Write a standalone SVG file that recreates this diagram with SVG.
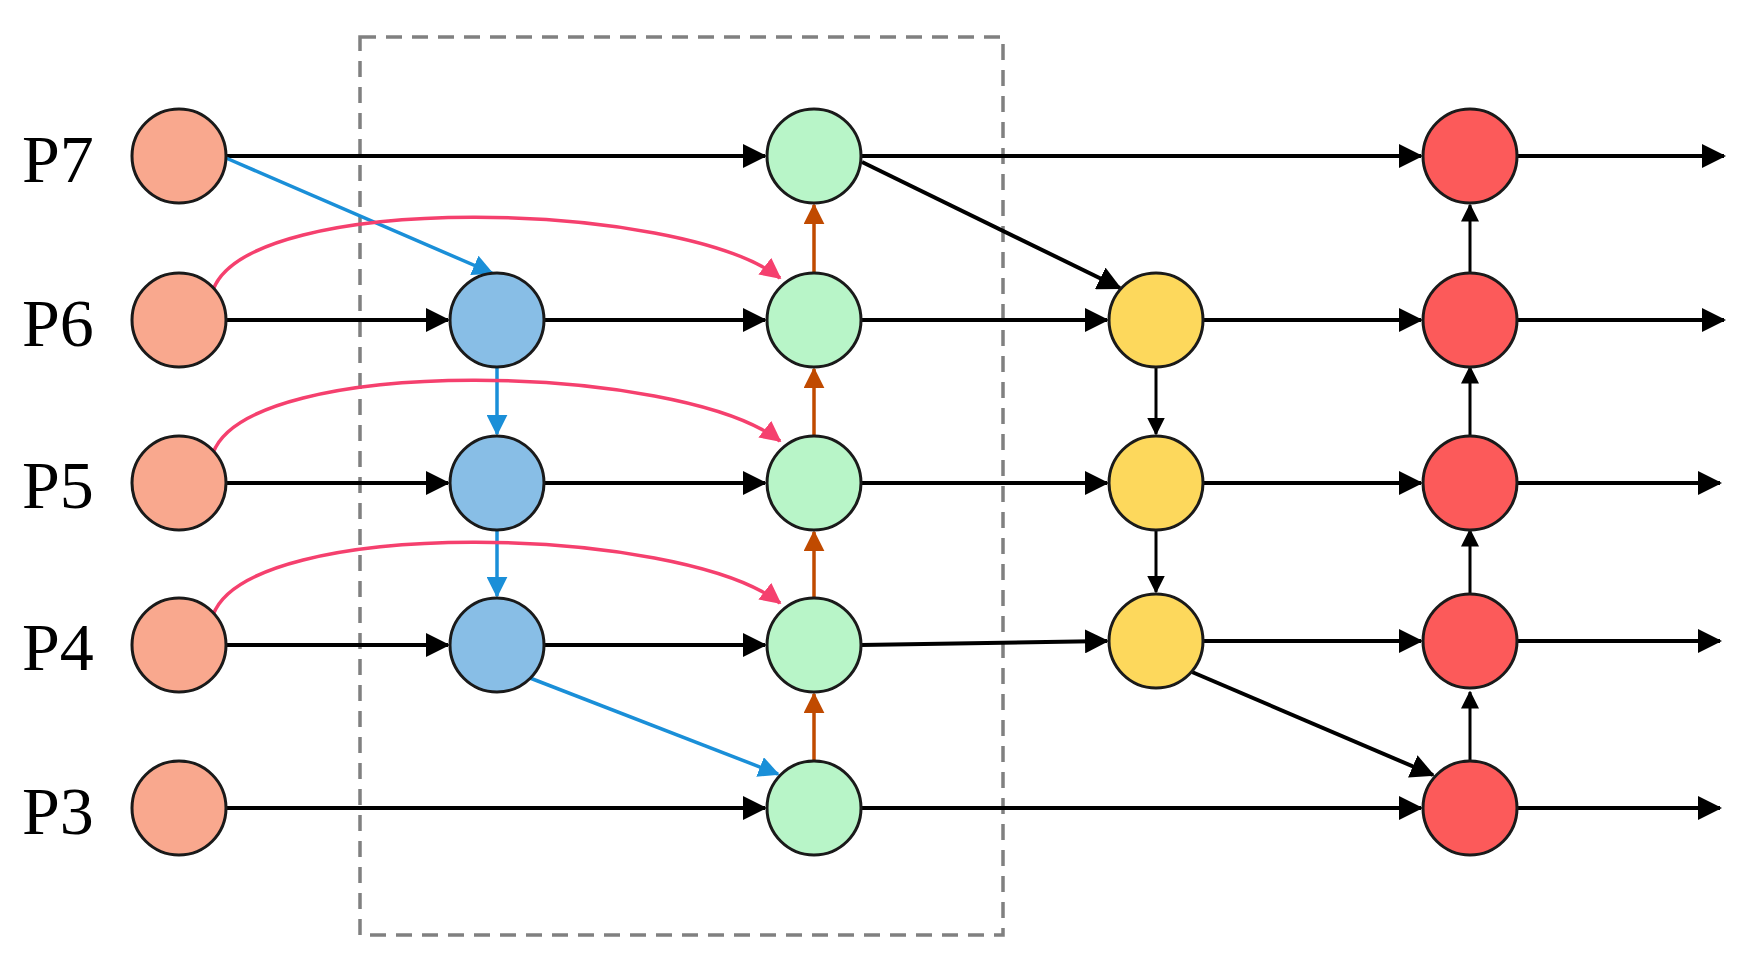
<svg xmlns="http://www.w3.org/2000/svg" width="1741" height="964" viewBox="0 0 1741 964">
<style>
circle{stroke:#1a1a1a;stroke-width:3}
.o{fill:#F9A88E}.b{fill:#88BEE6}.g{fill:#B8F5C8}.y{fill:#FDD85C}.r{fill:#FC5A5A}
.k{stroke:#000;stroke-width:4;fill:none;marker-end:url(#ak)}
.kt{stroke:#000;stroke-width:3;fill:none;marker-end:url(#ak)}
.bl{stroke:#1A8FD8;stroke-width:3.5;fill:none;marker-end:url(#ab)}
.pk{stroke:#F5406E;stroke-width:3.5;fill:none;marker-end:url(#ap)}
.br{stroke:#C04A00;stroke-width:3.5;fill:none;marker-end:url(#ar)}
text{font-family:"Liberation Serif",serif;font-size:68px;fill:#000}
</style>
<defs>
<marker id="ak" markerWidth="6" markerHeight="6" refX="5.5" refY="3" orient="auto" markerUnits="strokeWidth"><path d="M0,0L6,3L0,6z" fill="#000"/></marker>
<marker id="ab" markerWidth="6" markerHeight="6" refX="5.5" refY="3" orient="auto" markerUnits="strokeWidth"><path d="M0,0L6,3L0,6z" fill="#1A8FD8"/></marker>
<marker id="ap" markerWidth="6" markerHeight="6" refX="5.5" refY="3" orient="auto" markerUnits="strokeWidth"><path d="M0,0L6,3L0,6z" fill="#F5406E"/></marker>
<marker id="ar" markerWidth="6" markerHeight="6" refX="5.5" refY="3" orient="auto" markerUnits="strokeWidth"><path d="M0,0L6,3L0,6z" fill="#C04A00"/></marker>
</defs>
<rect x="0" y="0" width="1741" height="964" fill="#fff"/>
<rect id="box" x="360" y="37" width="643" height="898" fill="none" stroke="#808080" stroke-width="3.5" stroke-dasharray="16,10"/>
<g id="labels">
<text x="22" y="182">P7</text><text x="22" y="346">P6</text><text x="22" y="508">P5</text><text x="22" y="670">P4</text><text x="22" y="834">P3</text>
</g>
<g id="connectors">
<line class="k" x1="226" y1="156" x2="765" y2="156"/>
<line class="k" x1="861" y1="156" x2="1421" y2="156"/>
<line class="k" x1="1517" y1="156" x2="1724" y2="156"/>
<line class="k" x1="226" y1="320" x2="448" y2="320"/>
<line class="k" x1="544" y1="320" x2="765" y2="320"/>
<line class="k" x1="861" y1="320" x2="1107" y2="320"/>
<line class="k" x1="1203" y1="320" x2="1421" y2="320"/>
<line class="k" x1="1517" y1="320" x2="1724" y2="320"/>
<line class="k" x1="226" y1="483" x2="448" y2="483"/>
<line class="k" x1="544" y1="483" x2="765" y2="483"/>
<line class="k" x1="861" y1="483" x2="1107" y2="483"/>
<line class="k" x1="1203" y1="483" x2="1421" y2="483"/>
<line class="k" x1="1517" y1="483" x2="1720" y2="483"/>
<line class="k" x1="226" y1="645" x2="448" y2="645"/>
<line class="k" x1="544" y1="645" x2="765" y2="645"/>
<line class="k" x1="861" y1="645" x2="1107" y2="641"/>
<line class="k" x1="1203" y1="641" x2="1421" y2="641"/>
<line class="k" x1="1517" y1="641" x2="1720" y2="641"/>
<line class="k" x1="226" y1="808" x2="765" y2="808"/>
<line class="k" x1="861" y1="808" x2="1421" y2="808"/>
<line class="k" x1="1517" y1="808" x2="1720" y2="808"/>
<line class="bl" x1="226" y1="158" x2="492" y2="273"/>
<line class="bl" x1="497" y1="367" x2="497" y2="434"/>
<line class="bl" x1="497" y1="530" x2="497" y2="596"/>
<line class="bl" x1="530" y1="678" x2="778" y2="774"/>
<path class="pk" d="M213,290 C250,190 680,200 780,278"/>
<path class="pk" d="M213,453 C250,353 680,363 780,441"/>
<path class="pk" d="M213,615 C250,515 680,525 780,603"/>
<line class="br" x1="814" y1="761" x2="814" y2="694"/>
<line class="br" x1="814" y1="598" x2="814" y2="532"/>
<line class="br" x1="814" y1="436" x2="814" y2="369"/>
<line class="br" x1="814" y1="273" x2="814" y2="205"/>
<line class="k" x1="862" y1="162" x2="1120" y2="288"/>
<line class="kt" x1="1156" y1="367" x2="1156" y2="434"/>
<line class="kt" x1="1156" y1="530" x2="1156" y2="592"/>
<line class="k" x1="1192" y1="672" x2="1433" y2="775"/>
<line class="kt" x1="1470" y1="761" x2="1470" y2="692"/>
<line class="kt" x1="1470" y1="594" x2="1470" y2="530"/>
<line class="kt" x1="1470" y1="436" x2="1470" y2="367"/>
<line class="kt" x1="1470" y1="273" x2="1470" y2="205"/>
</g>
<g id="n-o7"><circle class="o" cx="179" cy="156" r="47"/></g>
<g id="n-o6"><circle class="o" cx="179" cy="320" r="47"/></g>
<g id="n-o5"><circle class="o" cx="179" cy="483" r="47"/></g>
<g id="n-o4"><circle class="o" cx="179" cy="645" r="47"/></g>
<g id="n-o3"><circle class="o" cx="179" cy="808" r="47"/></g>
<g id="n-b6"><circle class="b" cx="497" cy="320" r="47"/></g>
<g id="n-b5"><circle class="b" cx="497" cy="483" r="47"/></g>
<g id="n-b4"><circle class="b" cx="497" cy="645" r="47"/></g>
<g id="n-g7"><circle class="g" cx="814" cy="156" r="47"/></g>
<g id="n-g6"><circle class="g" cx="814" cy="320" r="47"/></g>
<g id="n-g5"><circle class="g" cx="814" cy="483" r="47"/></g>
<g id="n-g4"><circle class="g" cx="814" cy="645" r="47"/></g>
<g id="n-g3"><circle class="g" cx="814" cy="808" r="47"/></g>
<g id="n-y6"><circle class="y" cx="1156" cy="320" r="47"/></g>
<g id="n-y5"><circle class="y" cx="1156" cy="483" r="47"/></g>
<g id="n-y4"><circle class="y" cx="1156" cy="641" r="47"/></g>
<g id="n-r7"><circle class="r" cx="1470" cy="156" r="47"/></g>
<g id="n-r6"><circle class="r" cx="1470" cy="320" r="47"/></g>
<g id="n-r5"><circle class="r" cx="1470" cy="483" r="47"/></g>
<g id="n-r4"><circle class="r" cx="1470" cy="641" r="47"/></g>
<g id="n-r3"><circle class="r" cx="1470" cy="808" r="47"/></g>
</svg>
